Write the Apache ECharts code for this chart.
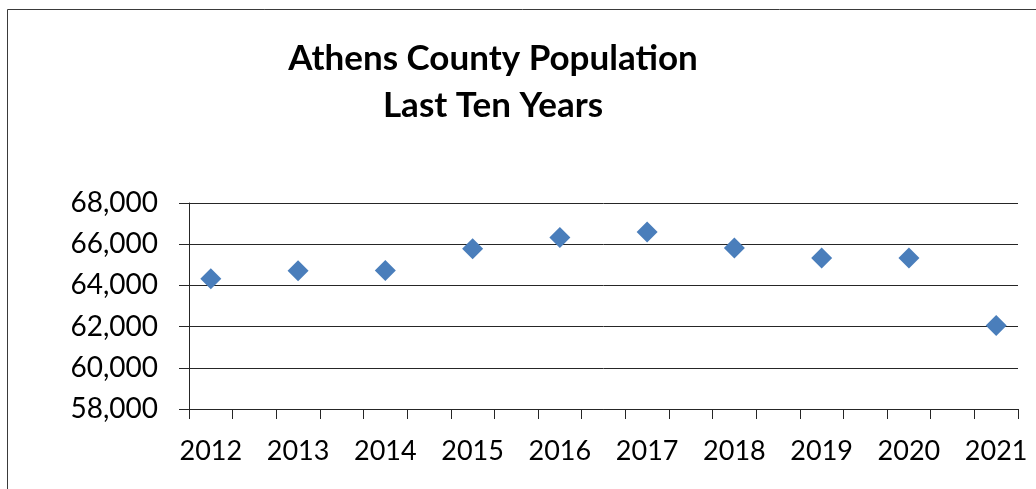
<!DOCTYPE html>
<html>
<head>
<meta charset="utf-8">
<script src="https://cdn.jsdelivr.net/npm/echarts@6/dist/echarts.min.js"></script>
<style>
html,body{margin:0;padding:0;background:#fff;}
#chart{width:1036px;height:489px;}
</style>
</head>
<body>
<div id="chart"></div>
<script>
const titleLines = ['Athens County Population', 'Last Ten Years'];
const years = [2012, 2013, 2014, 2015, 2016, 2017, 2018, 2019, 2020, 2021];
const population = [64320, 64710, 64720, 65780, 66330, 66590, 65810, 65330, 65330, 62050];
const yTicks = [58000, 60000, 62000, 64000, 66000, 68000];

const xTickValues = [];
years.forEach(y => { xTickValues.push(y - 0.25); });
xTickValues.push(years[years.length - 1] + 0.25);
years.forEach(y => { xTickValues.push(y + 0.25); });
const xTicks = Array.from(new Set(xTickValues)).sort((a, b) => a - b);

const font = 'Lato, "Open Sans", sans-serif';
const chart = echarts.init(document.getElementById('chart'), null, {renderer: 'canvas'});
chart.setOption({
  animation: false,
  backgroundColor: '#fff',
  title: {
    text: titleLines.join('\n'),
    left: 488,
    top: 30,
    textAlign: 'center',
    textStyle: {fontFamily: font, fontWeight: 'bold', fontSize: 35, lineHeight: 47, color: '#000'}
  },
  graphic: [{
    type: 'rect',
    shape: {x: 7.5, y: 9.5, width: 1200, height: 700},
    style: {fill: 'none', stroke: '#3a3a3a', lineWidth: 1},
    silent: true
  }],
  grid: {left: 189, right: 18, top: 203, bottom: 80},
  xAxis: {
    type: 'value',
    min: years[0] - 0.25,
    max: years[years.length - 1] + 0.25,
    splitLine: {show: false},
    axisLine: {show: true, lineStyle: {color: '#262626', width: 1}},
    axisTick: {show: true, length: 10, customValues: xTicks, lineStyle: {color: '#262626'}},
    axisLabel: {
      customValues: years,
      margin: 29,
      fontFamily: font, fontSize: 27, color: '#000',
      formatter: v => String(Math.round(v))
    }
  },
  yAxis: {
    type: 'value',
    min: yTicks[0],
    max: yTicks[yTicks.length - 1],
    interval: 2000,
    axisLine: {show: true, lineStyle: {color: '#262626', width: 1}},
    axisTick: {show: true, length: 10, lineStyle: {color: '#262626'}},
    splitLine: {show: true, lineStyle: {color: '#262626', width: 1}},
    axisLabel: {
      margin: 31,
      fontFamily: font, fontSize: 28, color: '#000',
      formatter: v => v.toLocaleString('en-US')
    }
  },
  series: [{
    type: 'scatter',
    symbol: 'diamond',
    symbolSize: 21,
    itemStyle: {color: '#4A7EBB', opacity: 1},
    data: years.map((y, i) => [y, population[i]])
  }]
});
</script>
</body>
</html>
